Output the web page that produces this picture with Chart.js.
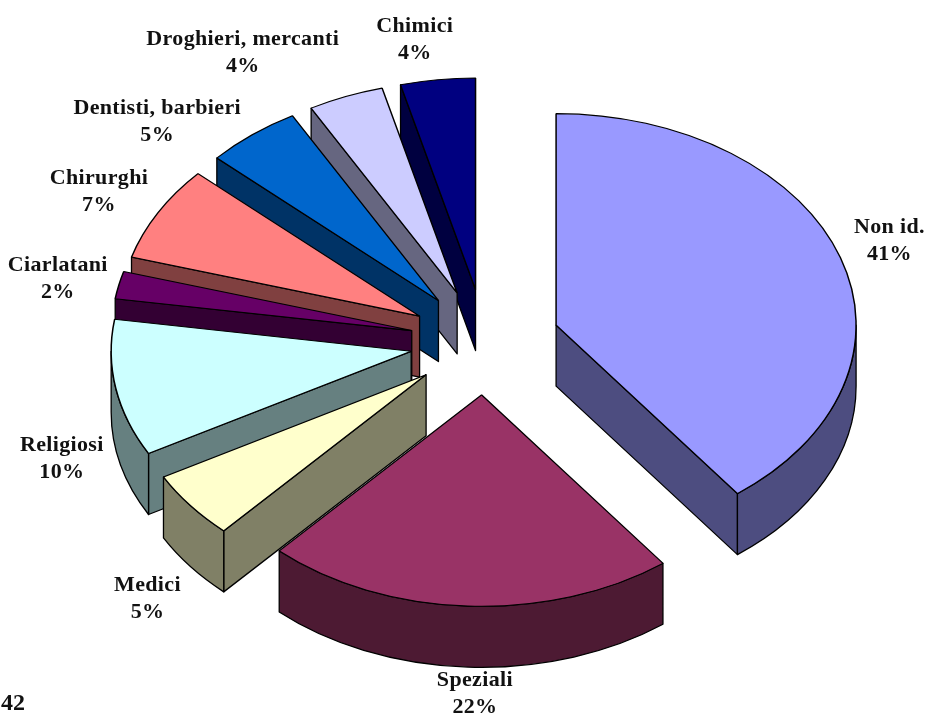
<!DOCTYPE html>
<html>
<head>
<meta charset="utf-8">
<script src="https://cdn.jsdelivr.net/npm/chart.js@4/dist/chart.umd.min.js"></script>
<style>
  html, body { margin: 0; background: #fff; }
  #wrap { position: relative; width: 930px; height: 715px; overflow: hidden; }
  #page { position: absolute; left: 1px; top: 689px; font: bold 24px "Liberation Serif", serif; color: #111; }
</style>
</head>
<body>
<div id="wrap">
  <canvas id="pie" width="930" height="715"></canvas>
  <div id="page">42</div>
</div>
<script>
// Data
const categories = ['Non id.', 'Speziali', 'Medici', 'Religiosi', 'Ciarlatani', 'Chirurghi', 'Dentisti, barbieri', 'Droghieri, mercanti', 'Chimici'];
const percents = [41, 22, 5, 10, 2, 7, 5, 4, 4];
const topColors = ['#9999ff', '#993366', '#ffffcc', '#ccffff', '#660066', '#ff8080', '#0066cc', '#ccccff', '#000080'];
const sideColors = ['#4d4d80', '#4d1a33', '#808066', '#668080', '#330033', '#804040', '#003366', '#666680', '#000040'];

// Nudge of each label away from the rim of its slice
const labelNudge = [[49, -16], [7, 88], [-43, 94], [-54, 71], [-61, -6], [-59, -20], [-95, -12], [-103, -43], [-23, -39]];

const tilt = 0.705;     // vertical squash of the pie
const depth = 61;       // height of the extruded wall
const explode = 75;     // how far each slice is pulled out
const skew = 2.6;       // degrees of angular shift from the perspective view

// Perspective pulls the slice edges back a little towards 12 o'clock
function viewAngle(angle) {
    const fromTop = angle + Math.PI / 2;
    return angle - skew * Math.PI / 180 * (1 - Math.cos(fromTop));
}

function sliceOrigin(arc) {
    const mid = (arc.startAngle + arc.endAngle) / 2;
    return {
        x: arc.x + Math.cos(mid) * explode,
        y: arc.y + Math.sin(mid) * explode * tilt,
        mid: mid
    };
}

function strokeFill(ctx, fill) {
    ctx.fillStyle = fill;
    ctx.fill();
    ctx.stroke();
}

// One flat side face running from the tip of the slice to its rim
function drawCutFace(ctx, o, r, angle, fill) {
    const ex = o.x + Math.cos(angle) * r;
    const ey = o.y + Math.sin(angle) * r * tilt;
    ctx.beginPath();
    ctx.moveTo(o.x, o.y);
    ctx.lineTo(ex, ey);
    ctx.lineTo(ex, ey + depth);
    ctx.lineTo(o.x, o.y + depth);
    ctx.closePath();
    strokeFill(ctx, fill);
}

// Curved outer wall, only the part that faces the viewer
function drawRimWall(ctx, o, r, start, end, fill) {
    const from = Math.max(start, 0);
    const to = Math.min(end, Math.PI);
    if (to <= from) return;
    ctx.beginPath();
    ctx.ellipse(o.x, o.y, r, r * tilt, 0, from, to);
    ctx.ellipse(o.x, o.y + depth, r, r * tilt, 0, to, from, true);
    ctx.closePath();
    strokeFill(ctx, fill);
}

const pie3d = {
    id: 'pie3d',
    afterDatasetUpdate(chart) {
        chart.getDatasetMeta(0).data.forEach(arc => {
            arc.startAngle = viewAngle(arc.startAngle);
            arc.endAngle = viewAngle(arc.endAngle);
            arc.circumference = arc.endAngle - arc.startAngle;
        });
    },
    beforeDatasetDraw(chart) {
        const ctx = chart.ctx;
        const arcs = chart.getDatasetMeta(0).data;

        // Back slices first so the nearer ones cover them
        const order = arcs.map((arc, i) => i).sort((a, b) => sliceOrigin(arcs[a]).y - sliceOrigin(arcs[b]).y);

        order.forEach(i => {
            const arc = arcs[i];
            const o = sliceOrigin(arc);
            const r = arc.outerRadius;

            ctx.save();
            ctx.strokeStyle = '#000';
            ctx.lineWidth = 1.3;
            ctx.lineJoin = 'round';
            if (Math.cos(arc.startAngle) < 0) drawCutFace(ctx, o, r, arc.startAngle, sideColors[i]);
            if (Math.cos(arc.endAngle) > 0) drawCutFace(ctx, o, r, arc.endAngle, sideColors[i]);
            drawRimWall(ctx, o, r, arc.startAngle, arc.endAngle, sideColors[i]);
            ctx.restore();

            // Top of the slice is the library's own arc, squashed and moved out
            ctx.save();
            ctx.translate(o.x, o.y);
            ctx.scale(1, tilt);
            ctx.translate(-arc.x, -arc.y);
            arc.draw(ctx);
            ctx.restore();
        });
        return false;
    },
    afterDatasetsDraw(chart) {
        const ctx = chart.ctx;
        const arcs = chart.getDatasetMeta(0).data;
        ctx.save();
        ctx.font = 'bold 22px "Liberation Serif", serif';
        ctx.letterSpacing = '0.35px';
        ctx.fillStyle = '#111';
        ctx.textAlign = 'center';
        ctx.textBaseline = 'middle';
        arcs.forEach((arc, i) => {
            const o = sliceOrigin(arc);
            const x = o.x + Math.cos(o.mid) * arc.outerRadius + labelNudge[i][0];
            const y = o.y + Math.sin(o.mid) * arc.outerRadius * tilt + labelNudge[i][1];
            ctx.fillText(categories[i], x, y - 14);
            ctx.fillText(percents[i] + '%', x, y + 13);
        });
        ctx.restore();
    }
};

new Chart(document.getElementById('pie'), {
    type: 'pie',
    data: {
        labels: categories,
        datasets: [{
            data: percents,
            backgroundColor: topColors,
            borderColor: '#000',
            borderWidth: 1.5,
            borderAlign: 'center',
            radius: 300
        }]
    },
    options: {
        responsive: false,
        animation: false,
        layout: { padding: { left: 40, bottom: 31 } },
        plugins: { legend: { display: false }, tooltip: { enabled: false } }
    },
    plugins: [pie3d]
});
</script>
</body>
</html>
